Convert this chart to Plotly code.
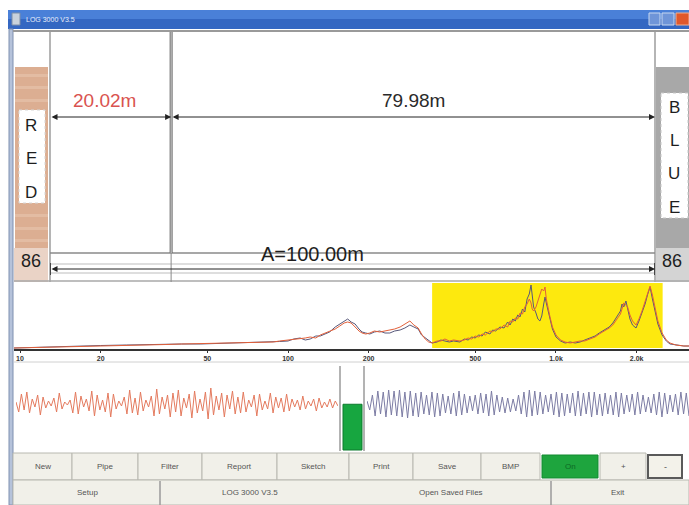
import plotly.graph_objects as go

W, H = 689, 505

# ---------------- data ----------------
pipe_length = 100.00
red_dist = 20.02
blue_dist = 79.98
gain_red = "86"
gain_blue = "86"
title_text = "LOG 3000 V3.5"

freq_ticks = [10, 20, 50, 100, 200, 500, 1000, 2000]
freq_tick_labels = ["10", "20", "50", "100", "200", "500", "1.0k", "2.0k"]
band_low, band_high = 345, 2500

spec_freq = [
    9.5, 12, 14, 17, 20, 25, 30, 35, 40, 47,
    55, 65, 72, 80, 88, 93, 100, 105, 111, 116,
    121, 127, 132, 138, 143, 150, 156, 162, 167, 172,
    178, 184, 189, 195, 202, 210, 220, 230, 240, 250,
    262, 273, 285, 295, 306, 315, 325, 335, 345, 360,
    372, 385, 400, 415, 438, 455, 470, 485, 499, 515,
    530, 545, 567, 580, 595, 618, 640, 660, 674, 690,
    705, 720, 734, 750, 765, 780, 795, 807, 815, 825,
    842, 856, 871, 885, 900, 910, 920, 935, 950, 970,
    1000, 1040, 1081, 1130, 1180, 1230, 1280, 1340, 1399, 1450,
    1524, 1580, 1630, 1660, 1700, 1740, 1763, 1790, 1824, 1850,
    1888, 1930, 1989, 2040, 2094, 2150, 2200, 2244, 2290, 2341,
    2400, 2488, 2580, 2663, 2800, 3000, 3135,
]
spec_blue = [
    1, 2, 2.5, 3, 3.5, 4, 4.5, 5, 5, 5,
    5.5, 6, 6, 6.5, 7, 7.5, 8, 10, 11, 9,
    10, 13, 13, 15, 17, 22, 25, 28, 30, 27,
    25, 20, 17, 16, 15, 17, 18, 16, 16, 18,
    19, 21, 24, 22, 20, 14, 11, 8, 6, 7,
    9, 8, 7, 8, 7, 10, 9, 12, 11, 14,
    13, 17, 15, 19, 18, 22, 21, 27, 24, 30,
    28, 34, 32, 40, 37, 50, 55, 64, 52, 42,
    36, 30, 28, 33, 45, 52, 46, 38, 30, 20,
    12, 8, 6, 7, 6, 7, 9, 11, 13, 16,
    19, 22, 26, 29, 33, 38, 45, 42, 48, 40,
    30, 24, 21, 28, 36, 45, 55, 62, 50, 38,
    25, 14, 8, 5, 4, 3, 3,
]
spec_red = [
    1, 1.5, 2, 2.5, 3, 3.5, 4, 4.5, 5, 5.5,
    6, 6, 6.5, 7, 7, 8, 9, 9, 10, 11,
    12, 11, 14, 16, 18, 20, 23, 26, 27, 26,
    22, 18, 16, 15, 16, 18, 17, 18, 19, 20,
    22, 25, 28, 24, 21, 15, 10, 7, 6, 8,
    8, 10, 8, 9, 8, 9, 11, 10, 13, 12,
    15, 14, 18, 17, 20, 20, 24, 22, 28, 27,
    31, 30, 36, 35, 42, 45, 50, 46, 40, 38,
    42, 48, 55, 60, 58, 62, 50, 40, 32, 22,
    14, 9, 7, 6, 7, 8, 8, 10, 12, 15,
    18, 21, 24, 27, 31, 35, 40, 46, 44, 42,
    34, 28, 24, 30, 38, 48, 57, 63, 54, 40,
    28, 16, 9, 6, 4, 3, 3,
]

wave_red = [
    2, -8, 10, -6, 12, -9, 5, -3, 9, -11,
    7, -4, 3, -2, 6, -8, 11, -5, 2, -1,
    4, -9, 12, -10, 8, -3, 5, -7, 13, -12,
    9, -6, 4, -8, 11, -13, 10, -5, 3, -2,
    7, -10, 14, -9, 6, -11, 12, -7, 4, -3,
    8, -12, 15, -10, 7, -5, 9, -13, 11, -8,
    14, -12, 6, -4, 10, -14, 13, -9, 5, -7,
    12, -15, 16, -11, 8, -6, 11, -13, 9, -5,
    13, -10, 7, -9, 12, -8, 4, -3, 9, -12,
    10, -6, 3, -5, 11, -9, 7, -4, 6, -8,
    10, -7, 5, -3, 4, -6, 8, -5, 3, -2,
    5, -7, 6, -4, 2, -3, 5, -4, 3, -2,
]
wave_blue = [
    3, -6, 9, -12, 13, -10, 12, -13, 14, -11,
    13, -12, 14, -13, 12, -14, 13, -12, 11, -13,
    12, -10, 9, -11, 12, -13, 11, -12, 10, -9,
    8, -10, 11, -12, 13, -11, 10, -9, 8, -7,
    9, -10, 11, -9, 10, -12, 13, -11, 9, -8,
    7, -9, 6, -8, 5, -7, 9, -10, 12, -13,
    14, -12, 13, -11, 12, -10, 9, -8, 10, -11,
    12, -13, 11, -12, 10, -9, 11, -12, 13, -12,
    11, -10, 12, -13, 12, -11, 10, -12, 11, -10,
    9, -11, 12, -13, 11, -10, 9, -8, 10, -11,
    12, -10, 9, -8, 7, -9, 10, -11, 12, -13,
    11, -10, 9, -8, 10, -11, 12, -10, 11, -12,
]
level_meter = 0.55  # fraction of meter height (green bar)

buttons_row1 = ["New", "Pipe", "Filter", "Report", "Sketch", "Print", "Save", "BMP", "On", "+", "-"]
buttons_row2 = ["Setup", "LOG 3000 V3.5", "Open Saved Files", "Exit"]

# ---------------- layout constants (pixels) ----------------
FONT = "Arial, Liberation Sans, sans-serif"
PIPE_X0, PIPE_X1 = 50, 655
SPEC_X0, SPEC_X1, SPEC_Y0, SPEC_Y1 = 14, 689, 283, 349
WAVE_CY, WAVE_H = 404, 17
RW_X0, RW_X1 = 16, 338
BW_X0, BW_X1 = 367, 689
row1_edges = [13, 72, 138, 202, 277, 349, 413, 481, 540, 600, 646, 684]

shapes = []
annots = []


def rect(x0, y0, x1, y1, fill, line=None, lw=1, dash=None, layer="above"):
    shapes.append(dict(type="rect", xref="x", yref="y", x0=x0, y0=y0, x1=x1, y1=y1,
                       fillcolor=fill, layer=layer,
                       line=dict(color=line or "rgba(0,0,0,0)", width=lw if line else 0,
                                 dash=dash or "solid")))


def hline(x0, x1, y, color, w=1, xref="x"):
    shapes.append(dict(type="line", xref=xref, yref="y", x0=x0, x1=x1, y0=y, y1=y,
                       line=dict(color=color, width=w)))


def vline(x, y0, y1, color, w=1, xref="x"):
    shapes.append(dict(type="line", xref=xref, yref="y", x0=x, x1=x, y0=y0, y1=y1,
                       line=dict(color=color, width=w)))


def text(x, y, s, size, color="#222", xref="x", xanchor="center", bold=False):
    annots.append(dict(x=x, y=y, xref=xref, yref="y", text=f"<b>{s}</b>" if bold else s,
                       showarrow=False, xanchor=xanchor, yanchor="middle",
                       font=dict(family=FONT, size=size, color=color)))


# window chrome
rect(8, 10, 689, 20, "#4a80d8", layer="below")
rect(8, 19, 689, 29, "#3467c2", layer="below")
rect(12, 13, 20, 25, "#c9d2dc", line="#7d8ea8")
text(24, 19.5, title_text, 7, "#e8eefa", xanchor="left")
rect(649, 13, 660, 25, "#6f95d8", line="#c8d8f0")
rect(662, 13, 674, 25, "#6f95d8", line="#c8d8f0")
rect(676, 13, 689, 25, "#e0582c", line="#f0b090")
rect(9, 29, 13, 505, "#b5c2da", line="#7f90b0", layer="below")
hline(13, 689, 31, "#9a9a9a", 2)

# left (RED) strip
rect(15, 67, 48, 248, "#dcae92", layer="below")
for yy in (74, 86, 99, 214, 227, 239):
    rect(15, yy, 48, yy + 3, "#e3bca3", layer="below")
rect(14, 248, 48, 282, "#ead3c6", layer="below")
rect(19, 110, 45, 203, "#ffffff", line="#d6d6d6", dash="dot")
for ch, yy in zip("RED", (125, 158, 192)):
    text(31, yy, ch, 17, "#1e1e1e")
text(31, 261, gain_red, 18, "#1e1e1e")

# right (BLUE) strip
rect(656, 67, 689, 248, "#a8a8a8", layer="below")
rect(656, 248, 689, 282, "#d4d4d4", layer="below")
rect(661, 93, 688, 218, "#ffffff", line="#c8c8c8", dash="dot")
for ch, yy in zip("BLUE", (107, 140, 173, 207)):
    text(674, yy, ch, 17, "#1e1e1e")
text(672, 261, gain_blue, 18, "#1e1e1e")

# pipe frame lines
vline(PIPE_X0, 32, 282, "#9c9c9c", 1.5)
vline(PIPE_X1, 32, 282, "#9c9c9c", 1.5)
hline(PIPE_X0, PIPE_X1, 253, "#8a8a8a", 1.5)
hline(PIPE_X0, PIPE_X1, 264, "#bdbdbd", 1)
hline(PIPE_X0, PIPE_X1, 273, "#bdbdbd", 1)
hline(14, 689, 281, "#a8a8a8", 1.5)

# leak marker (data coords on x5)
shapes.append(dict(type="line", xref="x5", yref="y", x0=red_dist, x1=red_dist, y0=32, y1=253,
                   line=dict(color="#6a6a6a", width=3)))
shapes.append(dict(type="line", xref="x5", yref="y", x0=red_dist, x1=red_dist, y0=32, y1=253,
                   line=dict(color="#d8d8d8", width=1)))
shapes.append(dict(type="line", xref="x5", yref="y", x0=red_dist, x1=red_dist, y0=253, y1=282,
                   line=dict(color="#8a8a8a", width=1)))


def darrow(xa, xb, y):
    annots.append(dict(x=xb, y=y, ax=xa, ay=y, xref="x5", yref="y", axref="x5", ayref="y",
                       text="", showarrow=True, arrowside="end+start", arrowhead=2,
                       arrowsize=1.2, arrowwidth=1, arrowcolor="#222", standoff=0,
                       startstandoff=0))


darrow(0, red_dist, 117)
darrow(red_dist, pipe_length, 117)
darrow(0, pipe_length, 269)
shapes.append(dict(type="line", xref="x5", yref="y", x0=0, x1=0, y0=263, y1=275,
                   line=dict(color="#222", width=1.5)))
shapes.append(dict(type="line", xref="x5", yref="y", x0=pipe_length, x1=pipe_length, y0=263,
                   y1=275, line=dict(color="#222", width=1.5)))
text(red_dist / 2 - 1, 100, f"{red_dist:.2f}m", 19, "#d9534f", xref="x5")
text(red_dist + blue_dist / 2, 100, f"{blue_dist:.2f}m", 19, "#2a2a2a", xref="x5")
text(312, 254, f"A={pipe_length:.2f}m", 20, "#1e1e1e")

# spectrum band
shapes.append(dict(type="rect", xref="x2", yref="y2", x0=band_low, x1=band_high, y0=1, y1=66,
                   fillcolor="#fde90e", line=dict(width=0), layer="below"))
hline(14, 689, 362, "#d0d0d0", 1)

# waveform panel
vline(340, 366, 451, "#9a9a9a", 1.5)
vline(364, 366, 451, "#9a9a9a", 1.5)
meter_top = 451 - level_meter * (451 - 366)
rect(343, meter_top, 362, 450, "#17a640", line="#0c7a2c")

# buttons
for i, lab in enumerate(buttons_row1):
    x0, x1 = row1_edges[i], row1_edges[i + 1]
    if lab == "On":
        rect(x0 + 2, 455, x1 - 2, 478, "#1ea53e", line="#128a30")
        text((x0 + x1) / 2, 466.5, lab, 8, "#0d6a24")
    elif lab == "-":
        rect(x0 + 2, 455, x1 - 2, 478, "#f3f2ea", line="#5a5a5a", lw=2)
        text((x0 + x1) / 2, 466.5, lab, 9, "#555")
    else:
        rect(x0, 453, x1, 480, "#f1f0e9", line="#b8b8b0")
        text((x0 + x1) / 2, 466.5, lab, 8, "#555")
rect(13, 480, 689, 505, "#f1f0e9", line="#b8b8b0")
vline(160, 481, 505, "#9a9a9a", 1.5)
vline(551, 481, 505, "#9a9a9a", 1.5)
row2_centers = [87, 250, 451, 618]
for lab, cx in zip(buttons_row2, row2_centers):
    text(cx, 492, lab, 8, "#555")

# ---------------- traces ----------------
fig = go.Figure()
fig.add_trace(go.Scatter(x=spec_freq, y=spec_blue, xaxis="x2", yaxis="y2", mode="lines",
                         line=dict(color="#58587a", width=1)))
fig.add_trace(go.Scatter(x=spec_freq, y=spec_red, xaxis="x2", yaxis="y2", mode="lines",
                         line=dict(color="#e2603a", width=1)))
fig.add_trace(go.Scatter(x=list(range(len(wave_red))), y=wave_red, xaxis="x3", yaxis="y3",
                         mode="lines", line=dict(color="#e47a5e", width=1)))
fig.add_trace(go.Scatter(x=list(range(len(wave_blue))), y=wave_blue, xaxis="x4", yaxis="y4",
                         mode="lines", line=dict(color="#7c7ca4", width=1)))
# invisible anchors for base pixel axes and x5
fig.add_trace(go.Scatter(x=[0], y=[0], mode="markers", marker=dict(opacity=0), hoverinfo="skip"))
fig.add_trace(go.Scatter(x=[0], y=[0], xaxis="x5", yaxis="y", mode="markers",
                         marker=dict(opacity=0), hoverinfo="skip"))


def py(p):
    return 1 - p / H


hidden = dict(visible=False, showgrid=False, zeroline=False, fixedrange=True)
fig.update_layout(
    width=W, height=H, autosize=False, showlegend=False,
    margin=dict(l=0, r=0, t=0, b=0, pad=0),
    paper_bgcolor="#ffffff", plot_bgcolor="rgba(0,0,0,0)",
    font=dict(family=FONT),
    xaxis=dict(range=[0, W], domain=[0, 1], **hidden),
    yaxis=dict(range=[H, 0], domain=[0, 1], **hidden),
    xaxis2=dict(type="log", range=[0.9776, 3.4963], domain=[SPEC_X0 / W, SPEC_X1 / W],
                anchor="y2", showgrid=False, zeroline=False, showline=True, linecolor="#333",
                linewidth=1.5, ticks="outside", ticklen=2, tickcolor="#333",
                tickvals=freq_ticks, ticktext=[f"<b>{t}</b>" for t in freq_tick_labels],
                tickfont=dict(size=7, color="#333", family=FONT)),
    yaxis2=dict(range=[0, 66], domain=[py(SPEC_Y1), py(SPEC_Y0)], anchor="x2", **hidden),
    xaxis3=dict(range=[0, len(wave_red) - 1], domain=[RW_X0 / W, RW_X1 / W], anchor="y3", **hidden),
    yaxis3=dict(range=[-WAVE_H, WAVE_H], domain=[py(WAVE_CY + WAVE_H), py(WAVE_CY - WAVE_H)],
                anchor="x3", **hidden),
    xaxis4=dict(range=[0, len(wave_blue) - 1], domain=[BW_X0 / W, BW_X1 / W], anchor="y4", **hidden),
    yaxis4=dict(range=[-WAVE_H, WAVE_H], domain=[py(WAVE_CY + WAVE_H), py(WAVE_CY - WAVE_H)],
                anchor="x4", **hidden),
    xaxis5=dict(range=[0, pipe_length], domain=[PIPE_X0 / W, PIPE_X1 / W], anchor="y", **hidden),
    shapes=shapes, annotations=annots,
)

fig.write_html("out.html", config={"displayModeBar": False},
               post_script="document.body.style.margin='0';")
